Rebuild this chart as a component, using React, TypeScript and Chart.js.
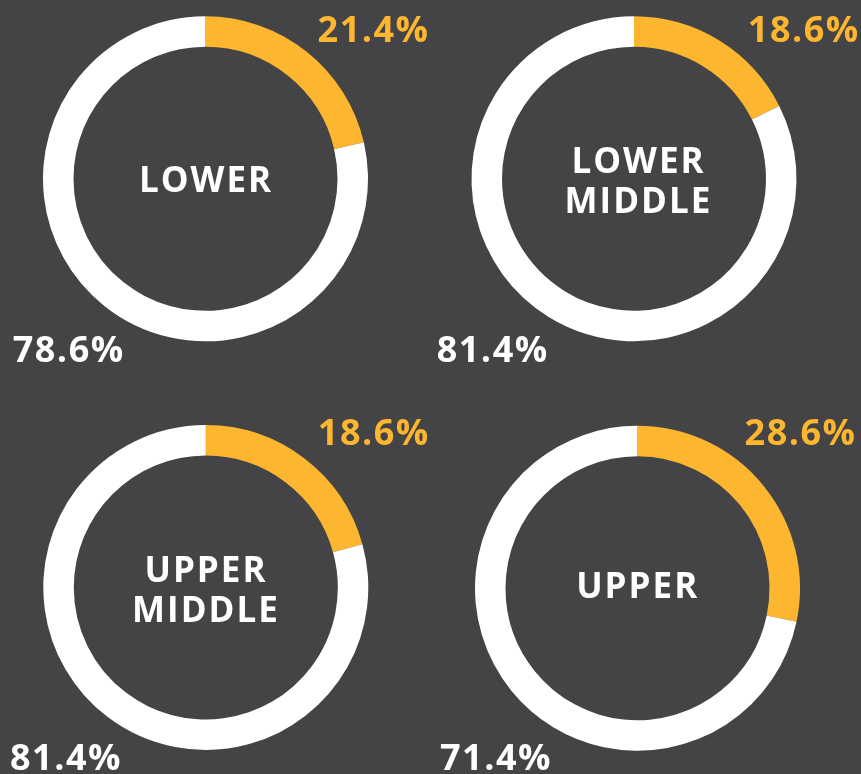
import React, { useEffect, useRef } from "react";
import { Chart, registerables } from "chart.js";

Chart.register(...registerables);

// ---- data ----
const segmentCategories = ["Highlighted", "Remainder"];
const panelTitles = [["LOWER"], ["LOWER", "MIDDLE"], ["UPPER", "MIDDLE"], ["UPPER"]];
const highlightedShare = [21.4, 17.6, 20.7, 28.3];
const remainderShare = [78.6, 82.4, 79.3, 71.7];
const highlightedLabels = ["21.4%", "18.6%", "18.6%", "28.6%"];
const remainderLabels = ["78.6%", "81.4%", "81.4%", "71.4%"];

// ---- style / layout ----
const W = 861;
const H = 774;
const BG = "#444446";
const ORANGE = "#FDB62F";
const WHITE = "#FFFFFF";
const OUTER_R = 162.5;
const INNER_R = 132;
const FONT = "'Open Sans', 'DejaVu Sans', sans-serif";
const LABEL_SPACING = 1.5;
const TITLE_SPACING = 2;

type Layout = {
  cx: number;
  cy: number;
  hiRight: number;
  hiBase: number;
  loLeft: number;
  loBase: number;
  titleX: number;
  titleBases: number[];
};

const layouts: Layout[] = [
  { cx: 205.5, cy: 178.8, hiRight: 428, hiBase: 41.7, loLeft: 12.7, loBase: 361.7, titleX: 205, titleBases: [191.7] },
  { cx: 634, cy: 178.8, hiRight: 858.3, hiBase: 41.7, loLeft: 436.7, loBase: 361.7, titleX: 637.5, titleBases: [173, 213] },
  { cx: 205.8, cy: 587.5, hiRight: 428.3, hiBase: 445, loLeft: 10, loBase: 770, titleX: 205, titleBases: [581.7, 621.7] },
  { cx: 637.5, cy: 588.3, hiRight: 855, hiBase: 445, loLeft: 440, loBase: 770, titleX: 636.7, titleBases: [598.3] },
];

function Panel({ index }: { index: number }) {
  const ref = useRef<HTMLCanvasElement | null>(null);
  useEffect(() => {
    const canvas = ref.current;
    if (!canvas) return;
    const L = layouts[index];
    const textPlugin = {
      id: "panelText" + index,
      afterDraw(chart: any) {
        const ctx = chart.ctx;
        ctx.save();
        ctx.textBaseline = "alphabetic";
        ctx.font = `700 36px ${FONT}`;
        ctx.letterSpacing = LABEL_SPACING + "px";
        ctx.fillStyle = ORANGE;
        ctx.textAlign = "right";
        ctx.fillText(highlightedLabels[index], L.hiRight + LABEL_SPACING, L.hiBase);
        ctx.fillStyle = WHITE;
        ctx.textAlign = "left";
        ctx.fillText(remainderLabels[index], L.loLeft, L.loBase);
        ctx.font = `700 35px ${FONT}`;
        ctx.letterSpacing = TITLE_SPACING + "px";
        ctx.textAlign = "center";
        panelTitles[index].forEach((t, i) => {
          ctx.fillText(t, L.titleX + TITLE_SPACING / 2, L.titleBases[i]);
        });
        ctx.restore();
      },
    };
    const chart = new Chart(canvas, {
      type: "doughnut",
      data: {
        labels: segmentCategories,
        datasets: [
          {
            data: [highlightedShare[index], remainderShare[index]],
            backgroundColor: [ORANGE, WHITE],
            borderWidth: 0,
            hoverOffset: 0,
            offset: 0,
          },
        ],
      },
      options: {
        responsive: false,
        animation: false,
        radius: OUTER_R,
        cutout: INNER_R,
        layout: {
          padding: {
            left: L.cx - OUTER_R,
            top: L.cy - OUTER_R,
            right: W - (L.cx + OUTER_R),
            bottom: H - (L.cy + OUTER_R),
          },
        },
        plugins: {
          legend: { display: false },
          tooltip: { enabled: false },
        },
        events: [],
      } as any,
      plugins: [textPlugin],
    });
    return () => chart.destroy();
  }, [index]);
  return (
    <canvas
      ref={ref}
      width={W}
      height={H}
      style={{ position: "absolute", left: 0, top: 0, width: W, height: H }}
    />
  );
}

export default function App() {
  useEffect(() => {
    document.body.style.margin = "0";
    document.body.style.background = BG;
  }, []);
  return (
    <div
      style={{
        position: "absolute",
        left: 0,
        top: 0,
        width: W,
        height: H,
        background: BG,
        overflow: "hidden",
      }}
    >
      {[0, 1, 2, 3].map((i) => (
        <Panel key={i} index={i} />
      ))}
    </div>
  );
}
